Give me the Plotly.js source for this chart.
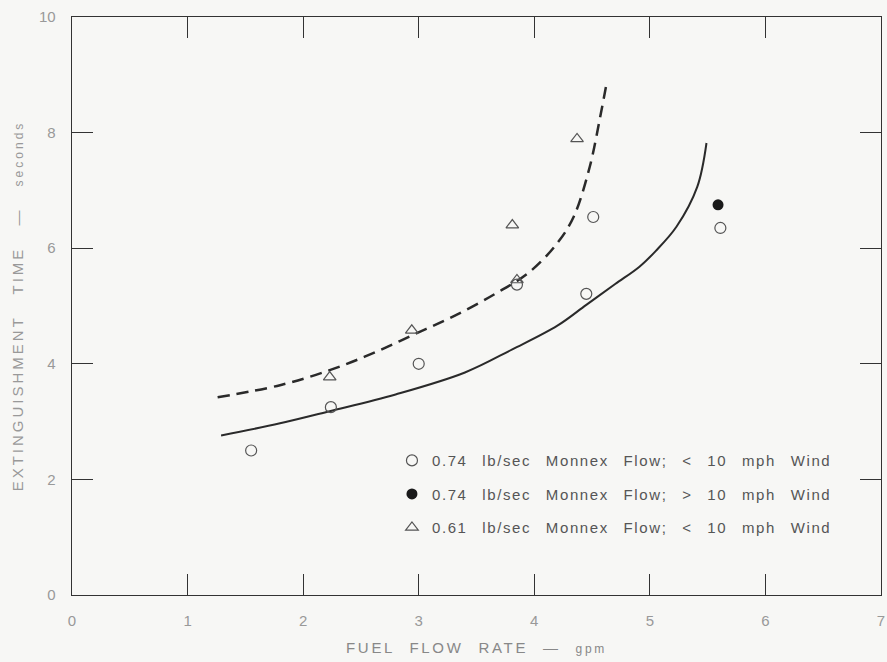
<!DOCTYPE html>
<html>
<head>
<meta charset="utf-8">
<script src="https://cdn.plot.ly/plotly-3.0.1.min.js"></script>
<style>
  html, body { margin: 0; padding: 0; background: #f7f7f5; }
  #chart { width: 887px; height: 662px; }
  .legendtext { letter-spacing: 1.6px; word-spacing: 9px; }
  .xtitle { letter-spacing: 2.7px; word-spacing: 8px; }
  .ytitle { letter-spacing: 3px; word-spacing: 14px; }
</style>
</head>
<body>
<div id="chart"></div>
<script>
// Series: 0.74 lb/sec, < 10 mph wind (open circles)
const openCircleX = [1.55, 2.24, 3.00, 3.85, 4.45, 4.51, 5.61];
const openCircleY = [2.50, 3.25, 4.00, 5.37, 5.21, 6.54, 6.35];
// Series: 0.74 lb/sec, > 10 mph wind (filled circle)
const filledCircleX = [5.59];
const filledCircleY = [6.75];
// Series: 0.61 lb/sec, < 10 mph wind (triangles)
const triangleX = [2.23, 2.94, 3.85, 3.81, 4.37];
const triangleY = [3.77, 4.58, 5.45, 6.40, 7.89];
// Faired curves
const solidCurveX = [1.29, 1.80, 2.23, 2.80, 3.40, 3.81, 4.20, 4.45, 4.70, 4.91, 5.05, 5.23, 5.41, 5.49];
const solidCurveY = [2.76, 2.97, 3.18, 3.47, 3.85, 4.25, 4.66, 5.02, 5.38, 5.68, 5.95, 6.37, 7.06, 7.82];
const dashedCurveX = [1.26, 1.80, 2.23, 2.60, 2.95, 3.30, 3.67, 3.96, 4.20, 4.34, 4.48, 4.57, 4.63];
const dashedCurveY = [3.42, 3.63, 3.89, 4.18, 4.50, 4.82, 5.22, 5.59, 6.09, 6.54, 7.41, 8.27, 8.90];
// Labels
const legendLabels = [
  "0.74 lb/sec Monnex Flow; < 10 mph Wind",
  "0.74 lb/sec Monnex Flow; > 10 mph Wind",
  "0.61 lb/sec Monnex Flow; < 10 mph Wind"
];
const xTitle = "FUEL FLOW RATE \u2014 <span style='font-size:12px'>gpm</span>";
const yTitle = "EXTINGUISHMENT TIME \u2014 <span style='font-size:12px'>seconds</span>";
const xTicks = [0, 1, 2, 3, 4, 5, 6, 7];
const yTicks = [0, 2, 4, 6, 8, 10];

const ink = '#2a2a2a';
const traces = [
  {x: solidCurveX, y: solidCurveY, mode: 'lines', line: {color: ink, width: 2, shape: 'spline', smoothing: 1}, showlegend: false, hoverinfo: 'skip'},
  {x: dashedCurveX, y: dashedCurveY, mode: 'lines', line: {color: ink, width: 2.5, shape: 'spline', smoothing: 1, dash: '12px,7px'}, showlegend: false, hoverinfo: 'skip'},
  {x: openCircleX, y: openCircleY, mode: 'markers', name: legendLabels[0], legendgroup: 'a',
   marker: {symbol: 'circle-open', size: 11, color: '#555', line: {width: 1.2}}},
  {x: filledCircleX, y: filledCircleY, mode: 'markers', name: legendLabels[1], legendgroup: 'b',
   marker: {symbol: 'circle', size: 11, color: '#1a1a1a'}},
  {x: triangleX, y: triangleY, mode: 'markers', name: legendLabels[2], legendgroup: 'c',
   marker: {symbol: 'triangle-up-open', size: 11, color: '#555', line: {width: 1.2}}}
];

const axisCommon = {
  showline: true, linecolor: '#333', linewidth: 1.3, mirror: 'ticks',
  ticks: 'inside', ticklen: 21, tickwidth: 1.2, tickcolor: '#333',
  showgrid: false, zeroline: false,
  tickfont: {family: 'Liberation Sans, Arial, sans-serif', size: 15, color: '#999'}
};

const layout = {
  width: 887, height: 662,
  margin: {l: 72, r: 6, t: 17, b: 67},
  paper_bgcolor: '#f7f7f5', plot_bgcolor: '#f7f7f5',
  font: {family: 'Liberation Sans, Arial, sans-serif', color: '#666'},
  xaxis: Object.assign({}, axisCommon, {
    range: [0, 7], tickvals: xTicks, ticktext: xTicks.map(String),
    ticklabelstandoff: 12,
    title: {text: xTitle, font: {size: 15, color: '#888'}, standoff: 14}
  }),
  yaxis: Object.assign({}, axisCommon, {
    range: [0, 10], tickvals: yTicks, ticktext: yTicks.map(String),
    ticklabelstandoff: 12,
    title: {text: yTitle, font: {size: 15, color: '#999'}, standoff: 11}
  }),
  showlegend: true,
  legend: {
    x: 0.3955, y: 0.261, xanchor: 'left', yanchor: 'top',
    bgcolor: 'rgba(0,0,0,0)', borderwidth: 0,
    traceorder: 'grouped', tracegroupgap: 11,
    itemwidth: 30,
    font: {family: 'Liberation Sans, Arial, sans-serif', size: 15, color: '#555'}
  }
};

Plotly.newPlot('chart', traces, layout, {displayModeBar: false, staticPlot: true});
</script>
</body>
</html>
